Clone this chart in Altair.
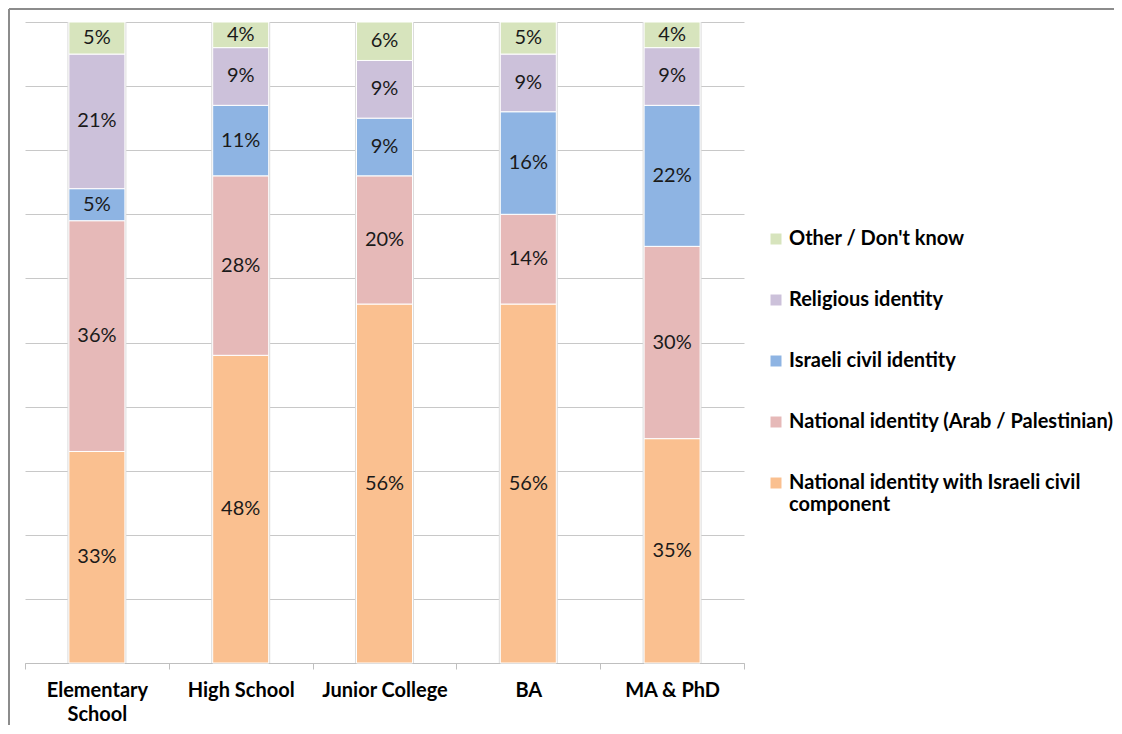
import altair as alt
import pandas as pd

categories = ["Elementary School", "High School", "Junior College", "BA", "MA & PhD"]
series = [
    "National identity with Israeli civil component",
    "National identity (Arab / Palestinian)",
    "Israeli civil identity",
    "Religious identity",
    "Other / Don't know",
]
national_israeli = [33, 48, 56, 56, 35]
national_arab = [36, 28, 20, 14, 30]
israeli_civil = [5, 11, 9, 16, 22]
religious = [21, 9, 9, 9, 9]
other = [5, 4, 6, 5, 4]
colors = ["#fac090", "#e6b9b8", "#8eb4e3", "#ccc1da", "#d7e4bd"]

rows = []
for si, (s, vals) in enumerate(zip(series, [national_israeli, national_arab, israeli_civil, religious, other])):
    for c, v in zip(categories, vals):
        rows.append({"category": c, "series": s, "value": v, "ord": si})
df = pd.DataFrame(rows)

legend_order = series[::-1]
color_scale = alt.Scale(domain=legend_order, range=colors[::-1])
y_scale = alt.Scale(domain=[0, 100], nice=False, zero=True)
y_axis = alt.Axis(title=None, labels=False, ticks=False, domain=False, grid=True,
                  gridColor="#c8c8c8", gridWidth=1, values=list(range(0, 101, 10)))

x_enc = alt.X(
    "category:N",
    sort=categories,
    scale=alt.Scale(paddingInner=0, paddingOuter=0),
    axis=alt.Axis(
        title=None, labelAngle=0, labelFont="Lato", labelFontWeight="bold",
        labelFontSize=20, labelColor="#000000",
        labelExpr="datum.label == 'Elementary School' ? ['Elementary', 'School'] : datum.label",
        labelLineHeight=24, tickBand="extent", tickSize=6, tickColor="#bfbfbf",
        domainColor="#bfbfbf", labelPadding=11, grid=False,
    ),
)

base = (
    alt.Chart(df)
    .transform_stack(stack="value", as_=["y0", "y1"], groupby=["category"],
                     sort=[alt.SortField("ord", order="ascending")])
    .transform_calculate(mid="(datum.y0 + datum.y1) / 2", label="datum.value + '%'")
)

shadow = alt.Chart(df).mark_bar(width=59, color="#dcdcdc").encode(
    x=x_enc,
    y=alt.Y("sum(value):Q", scale=y_scale, axis=y_axis),
)

bars = base.mark_bar(width=56, stroke="white", strokeWidth=1).encode(
    x=x_enc,
    y=alt.Y("y0:Q", scale=y_scale, axis=y_axis),
    y2="y1:Q",
    color=alt.Color(
        "series:N", scale=color_scale,
        legend=alt.Legend(
            title=None, orient="none", legendX=741, legendY=207, padding=0,
            symbolType="square", symbolSize=121, symbolStrokeWidth=0,
            labelFont="Lato", labelFontWeight="bold", labelFontSize=20, labelColor="#000000",
            rowPadding=41, labelOffset=3, labelLimit=400,
            labelExpr="datum.label == 'National identity with Israeli civil component' ? ['National identity with Israeli civil', 'component'] : datum.label",
        ),
    ),
    order=alt.Order("ord:Q"),
)

texts = base.mark_text(font="Lato", fontSize=20, color="#1a1a1a").encode(
    x=x_enc,
    y=alt.Y("mid:Q", scale=y_scale, axis=y_axis),
    text="label:N",
)

frame_df = pd.DataFrame({"k": [0]})
left_border = alt.Chart(frame_df).mark_rule(color="#8c8c8c", strokeWidth=2).encode(
    x=alt.value(-16), y=alt.value(-13), y2=alt.value(720)
)
top_border = alt.Chart(frame_df).mark_rule(color="#8c8c8c", strokeWidth=2).encode(
    x=alt.value(-16), x2=alt.value(1100), y=alt.value(-13)
)

chart = (
    alt.layer(shadow, bars, texts, left_border, top_border)
    .properties(
        width=719, height=641,
        padding={"left": 17, "top": 14, "right": 370, "bottom": 62},
        autosize=alt.AutoSizeParams(type="none"),
    )
    .configure_view(stroke=None)
)

chart.save("out.html", embed_options={"renderer": "svg", "actions": False})
